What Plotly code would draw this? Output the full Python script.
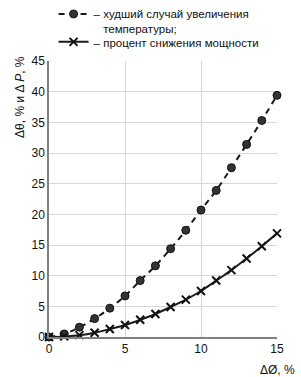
import plotly.graph_objects as go

x_vals = list(range(0, 16))
worst_temp = [0, 0.5, 1.6, 3.0, 4.7, 6.7, 9.2, 11.6, 14.4, 17.4, 20.7, 23.9, 27.6, 31.4, 35.3, 39.4]
power_drop = [0, 0.1, 0.3, 0.7, 1.3, 1.95, 2.8, 3.75, 4.9, 6.1, 7.5, 9.2, 10.9, 12.8, 14.8, 16.9]
x_ticks = [0, 5, 10, 15]
y_ticks = [0, 5, 10, 15, 20, 25, 30, 35, 40, 45]

name_temp = "– худший случай увеличения<br>&nbsp;&nbsp;&nbsp;температуры;"
name_power = "– процент снижения мощности"

FONT = "Liberation Sans, Arial, sans-serif"

fig = go.Figure()
fig.add_trace(go.Scatter(
    x=x_vals, y=worst_temp, name=name_temp, mode="lines+markers",
    line=dict(color="#1a1a1a", width=2, dash="6px,5px", shape="spline"),
    marker=dict(symbol="circle", size=8, color="#333333", line=dict(color="#111111", width=1)),
    cliponaxis=False, legend="legend",
))
fig.add_trace(go.Scatter(
    x=x_vals, y=power_drop, name=name_power, mode="lines+markers",
    line=dict(color="#1a1a1a", width=2, shape="spline"),
    marker=dict(symbol="x-thin-open", size=8, color="#111111", line=dict(color="#111111", width=2)),
    cliponaxis=False, legend="legend2",
))

fig.update_layout(
    width=301, height=377,
    margin=dict(l=49, r=24, t=61, b=40, autoexpand=False),
    paper_bgcolor="white", plot_bgcolor="white",
    font=dict(family=FONT, size=12, color="#111111"),
    showlegend=True,
    legend=dict(x=0.02, y=1.221, xanchor="left", yanchor="top", valign="top",
                bgcolor="rgba(0,0,0,0)", borderwidth=0, font=dict(size=11.5),
                itemwidth=30),
    legend2=dict(x=0.02, y=1.12, xanchor="left", yanchor="top", valign="top",
                 bgcolor="rgba(0,0,0,0)", borderwidth=0, font=dict(size=11.5),
                 itemwidth=30),
    xaxis=dict(range=[0, 15], tickvals=x_ticks, showgrid=True, gridcolor="#d6d6d6",
               gridwidth=1, zeroline=False, showline=True, linecolor="#808080",
               linewidth=1.5, ticks="", tickfont=dict(size=12)),
    yaxis=dict(range=[0, 45], tickvals=y_ticks, showgrid=True, gridcolor="#d6d6d6",
               gridwidth=1, zeroline=False, showline=True, linecolor="#808080",
               linewidth=1.5, ticks="", tickfont=dict(size=12)),
)

fig.add_annotation(xref="x", yref="y", x=16.05, y=0, ax=-22, ay=0, axref="pixel", ayref="pixel",
                   text="", showarrow=True, arrowhead=2, arrowsize=1.3, arrowwidth=1.3,
                   arrowcolor="#222222")
fig.add_annotation(xref="x", yref="y", x=0, y=47.8, ax=0, ay=22, axref="pixel", ayref="pixel",
                   text="", showarrow=True, arrowhead=2, arrowsize=1.3, arrowwidth=1.3,
                   arrowcolor="#222222")

fig.add_annotation(xref="paper", yref="paper", x=-0.127, y=0.87, text="Δθ, % и Δ <i>P</i>, %",
                   textangle=-90, showarrow=False, xanchor="center", yanchor="middle",
                   font=dict(size=12))
fig.add_annotation(xref="paper", yref="paper", x=1.0, y=-0.12, text="ΔØ, %",
                   showarrow=False, xanchor="center", yanchor="middle", font=dict(size=12))

fig.write_html("out.html")
